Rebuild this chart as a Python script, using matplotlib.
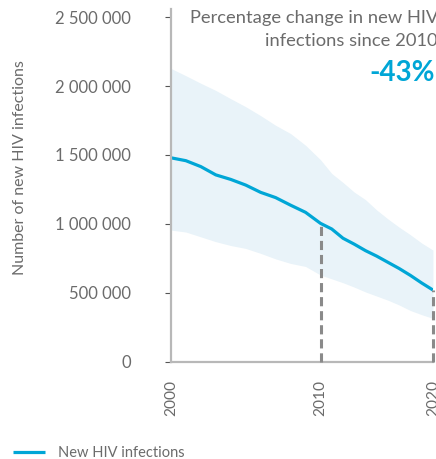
import numpy as np
import matplotlib.pyplot as plt
from matplotlib.ticker import FuncFormatter

# дані
years = list(range(2000, 2021))
infections = [1479000, 1458000, 1415000, 1355000, 1322000, 1281000, 1228000,
              1190000, 1135000, 1083000, 1003000, 962000, 895000, 852000,
              805000, 765000, 720000, 675000, 625000, 570000, 519000]
upper = [2128000, 2075000, 2020000, 1968000, 1908000, 1850000, 1785000,
         1715000, 1655000, 1570000, 1465000, 1365000, 1300000, 1230000,
         1175000, 1100000, 1035000, 975000, 920000, 860000, 809000]
lower = [954000, 940000, 905000, 870000, 842000, 821000, 785000, 745000,
         712000, 690000, 628000, 600000, 572000, 540000, 505000, 475000,
         445000, 410000, 370000, 340000, 313000]
yticks = [0, 500000, 1000000, 1500000, 2000000, 2500000]
xticks = [2000, 2010, 2020]
marked = [2010, 2020]

blue = '#00a6d6'
grey = '#6b6b6b'

plt.rcParams['font.family'] = ['Lato', 'DejaVu Sans']

fig = plt.figure(figsize=(4.36, 4.59), dpi=100)
ax = fig.add_axes([0.392, 0.2124, 0.601, 0.7676])

# вісь x на рисунку нерівномірна: 2000-2010 ширше за 2010-2020
xp = [2000, 2010, 2020]
fp = [0, 149, 261]
ax.set_xscale('function', functions=(lambda x: np.interp(x, xp, fp),
                                     lambda x: np.interp(x, fp, xp)))

ax.fill_between(years, lower, upper, color='#e9f3f9', lw=0)
ax.plot(years, infections, color=blue, lw=2.3, label='New HIV infections',
        solid_capstyle='butt')
for yr in marked:
    v = infections[years.index(yr)]
    ax.plot([yr, yr], [0, v], color='#8a8a8a', lw=2.2, ls=(0, (3, 1.6)),
            zorder=3, clip_on=False)

ax.set_xlim(2000, 2020)
ax.set_ylim(0, 2558000)
ax.set_xticks(xticks)
ax.set_yticks(yticks)
ax.yaxis.set_major_formatter(FuncFormatter(lambda v, p: format(int(v), ',').replace(',', ' ')))
for s in ['top', 'right']:
    ax.spines[s].set_visible(False)
for s in ['left', 'bottom']:
    ax.spines[s].set_color('#b8b8b8')
    ax.spines[s].set_linewidth(1.6)
ax.tick_params(axis='y', length=4, width=0.8, color='#555555', pad=25,
               labelsize=12, labelcolor=grey)
ax.tick_params(axis='x', length=0, pad=13, labelsize=11.2, labelcolor=grey,
               labelrotation=90)

fig.text(0.046, 0.635, 'Number of new HIV infections', rotation=90,
         ha='center', va='center', fontsize=11.5, color=grey)

fig.text(1.006, 0.96, 'Percentage change in new HIV', ha='right', va='center',
         fontsize=13.2, color=grey)
fig.text(1.004, 0.91, 'infections since 2010', ha='right', va='center',
         fontsize=13.2, color=grey)
fig.text(0.998, 0.84, '-43%', ha='right', va='center', fontsize=20,
         color=blue, fontweight='bold')

fig.legend(loc='lower left', bbox_to_anchor=(0.0, -0.03), frameon=False,
           fontsize=10.5, labelcolor=grey, handlelength=2.2, handletextpad=0.9)

fig.savefig('out.png', dpi=100)
